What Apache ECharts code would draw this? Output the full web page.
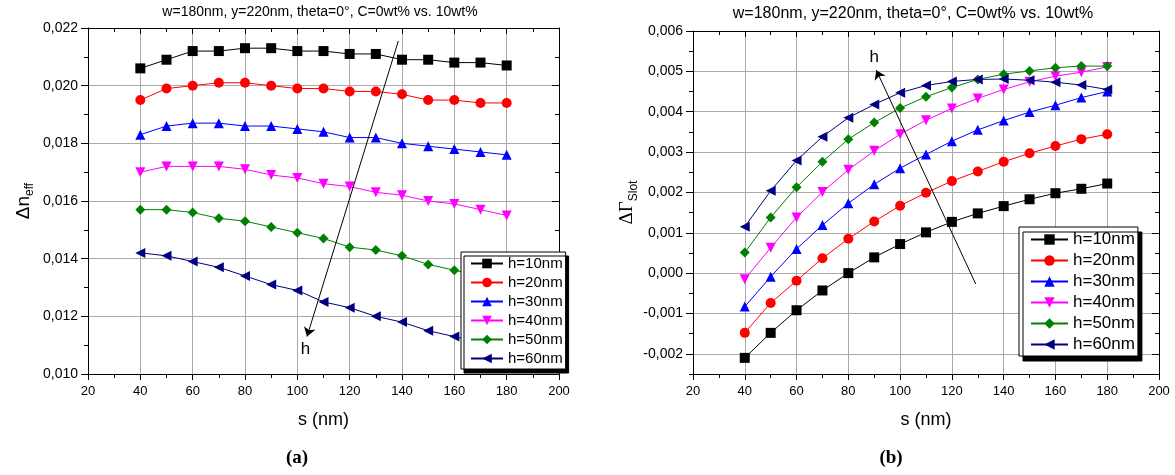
<!DOCTYPE html>
<html><head><meta charset="utf-8">
<script src="https://cdn.jsdelivr.net/npm/echarts@6/dist/echarts.min.js"></script>
<style>html,body{margin:0;padding:0;background:#fff}#c{width:1175px;height:475px}</style>
</head><body><div id="c"></div>
<script>
// ---------- DATA ----------
const sValues = [40, 50, 60, 70, 80, 90, 100, 110, 120, 130, 140, 150, 160, 170, 180];
const seriesNames = ['h=10nm', 'h=20nm', 'h=30nm', 'h=40nm', 'h=50nm', 'h=60nm'];

// (a) Δn_eff
const dnH10 = [0.0206, 0.0209, 0.0212, 0.0212, 0.0213, 0.0213, 0.0212, 0.0212, 0.0211, 0.0211, 0.0209, 0.0209, 0.0208, 0.0208, 0.0207];
const dnH20 = [0.0195, 0.0199, 0.0200, 0.0201, 0.0201, 0.0200, 0.0199, 0.0199, 0.0198, 0.0198, 0.0197, 0.0195, 0.0195, 0.0194, 0.0194];
const dnH30 = [0.0183, 0.0186, 0.0187, 0.0187, 0.0186, 0.0186, 0.0185, 0.0184, 0.0182, 0.0182, 0.0180, 0.0179, 0.0178, 0.0177, 0.0176];
const dnH40 = [0.0170, 0.0172, 0.0172, 0.0172, 0.0171, 0.0169, 0.0168, 0.0166, 0.0165, 0.0163, 0.0162, 0.0160, 0.0159, 0.0157, 0.0155];
const dnH50 = [0.0157, 0.0157, 0.0156, 0.0154, 0.0153, 0.0151, 0.0149, 0.0147, 0.0144, 0.0143, 0.0141, 0.0138, 0.0136, 0.0134, 0.0132];
const dnH60 = [0.0142, 0.0141, 0.0139, 0.0137, 0.0134, 0.0131, 0.0129, 0.0125, 0.0123, 0.0120, 0.0118, 0.0115, 0.0113, 0.0111, 0.0109];

// (b) ΔΓ_Slot
const gH10 = [-0.00210, -0.00148, -0.00092, -0.00043, 0.00000, 0.00039, 0.00072, 0.00101, 0.00127, 0.00148, 0.00166, 0.00183, 0.00198, 0.00209, 0.00222];
const gH20 = [-0.00148, -0.00074, -0.00019, 0.00037, 0.00085, 0.00128, 0.00167, 0.00199, 0.00228, 0.00252, 0.00276, 0.00297, 0.00315, 0.00332, 0.00344];
const gH30 = [-0.00083, -0.00009, 0.00060, 0.00119, 0.00173, 0.00220, 0.00260, 0.00294, 0.00327, 0.00355, 0.00378, 0.00399, 0.00416, 0.00435, 0.00450];
const gH40 = [-0.00015, 0.00063, 0.00138, 0.00201, 0.00256, 0.00303, 0.00344, 0.00379, 0.00408, 0.00433, 0.00455, 0.00474, 0.00488, 0.00498, 0.00511];
const gH50 = [0.00051, 0.00138, 0.00213, 0.00276, 0.00332, 0.00373, 0.00409, 0.00437, 0.00460, 0.00480, 0.00493, 0.00501, 0.00509, 0.00513, 0.00513];
const gH60 = [0.00115, 0.00204, 0.00279, 0.00338, 0.00385, 0.00418, 0.00447, 0.00465, 0.00475, 0.00480, 0.00481, 0.00478, 0.00473, 0.00466, 0.00455];

// axes / ticks
const xRange = [20, 200];
const dnRange = [0.010, 0.022];
const gammaRange = [-0.0025, 0.006];
const gammaTickValues = [-0.002, -0.001, 0.000, 0.001, 0.002, 0.003, 0.004, 0.005, 0.006];

// annotations (arrow start, arrow end) in data coordinates
const arrowA = [[138.6, 0.02155], [103.7, 0.01130]];
const arrowB = [[129.2, -0.00027], [90.8, 0.00503]];
const titleText = 'w=180nm, y=220nm, theta=0°, C=0wt% vs. 10wt%';
const xName = 's (nm)';
const captions = ['(a)', '(b)'];

// ---------- STYLE ----------
const FONT = 'Liberation Sans, Arial, sans-serif';
const colors = ['#000000', '#ff0000', '#0000ff', '#ff00ff', '#008000', '#000080'];
const symbols = [
  'rect', 'circle',
  'path://M5,0 L10,9 L0,9 Z',
  'path://M0,0 L10,0 L5,9 Z',
  'diamond',
  'path://M9,0 L9,10 L0,5 Z'
];
const dnSeries = [dnH10, dnH20, dnH30, dnH40, dnH50, dnH60];
const gSeries = [gH10, gH20, gH30, gH40, gH50, gH60];
const fmt = v => (Math.abs(v) < 1e-12 ? 0 : v).toFixed(3).replace('.', ',');

function xAx(grid, pos, labels) {
  return {
    type: 'value', gridIndex: grid, position: pos, min: xRange[0], max: xRange[1], interval: 20,
    axisLine: { show: true, onZero: false, lineStyle: { color: '#000', width: 1 } },
    axisTick: { show: true, inside: !labels, length: 6, lineStyle: { color: '#000' } },
    minorTick: { show: true, splitNumber: 2, length: 4, lineStyle: { color: '#000' } },
    axisLabel: { show: labels, color: '#000', fontSize: 13, fontFamily: FONT, margin: 11 },
    splitLine: { show: labels, lineStyle: { color: '#aaaaaa', width: 1 } },
    name: labels ? xName : '', nameLocation: 'middle', nameGap: 37,
    nameTextStyle: { fontSize: 18, fontFamily: FONT, color: '#000' }
  };
}

const option = {
  animation: false,
  backgroundColor: '#fff',
  grid: [
    { left: 88, top: 28, width: 471, height: 346, containLabel: false, outerBoundsMode: 'none' },
    { left: 693, top: 31, width: 466, height: 343, containLabel: false, outerBoundsMode: 'none' },
    { left: 693, top: 31, width: 466, height: 343, containLabel: false, outerBoundsMode: 'none' }
  ],
  xAxis: [
    xAx(0, 'bottom', true), xAx(0, 'top', false),
    xAx(1, 'bottom', true), xAx(1, 'top', false),
    { type: 'value', gridIndex: 2, min: xRange[0], max: xRange[1], show: false }
  ],
  yAxis: [
    { type: 'value', gridIndex: 0, position: 'left', min: dnRange[0], max: dnRange[1], interval: 0.002,
      axisLine: { show: true, onZero: false, lineStyle: { color: '#000' } },
      axisTick: { show: true, inside: false, length: 7, lineStyle: { color: '#000' } },
      minorTick: { show: true, splitNumber: 2, length: 4, lineStyle: { color: '#000' } },
      axisLabel: { color: '#000', fontSize: 14, fontFamily: FONT, margin: 10, formatter: fmt },
      splitLine: { show: true, lineStyle: { color: '#aaaaaa' } },
      name: '{d|Δn}{s|eff}', nameLocation: 'middle', nameGap: 52, nameRotate: 90,
      nameTextStyle: { color: '#000', rich: {
        d: { fontSize: 19, fontFamily: FONT, lineHeight: 24, color: '#000' },
        s: { fontSize: 12, fontFamily: FONT, lineHeight: 12, verticalAlign: 'bottom', color: '#000' } } }
    },
    { type: 'value', gridIndex: 0, position: 'right', min: dnRange[0], max: dnRange[1], interval: 0.002,
      axisLine: { show: true, onZero: false, lineStyle: { color: '#000' } },
      axisTick: { show: true, inside: true, length: 7, lineStyle: { color: '#000' } },
      minorTick: { show: true, splitNumber: 2, length: 4, lineStyle: { color: '#000' } },
      axisLabel: { show: false }, splitLine: { show: false }
    },
    { type: 'value', gridIndex: 1, position: 'left', min: gammaRange[0], max: gammaRange[1], interval: 0.0005,
      axisLine: { show: true, onZero: false, lineStyle: { color: '#000' } },
      axisTick: { show: true, inside: false, length: 7, customValues: gammaTickValues, lineStyle: { color: '#000' } },
      axisLabel: { color: '#000', fontSize: 14, fontFamily: FONT, margin: 10, customValues: gammaTickValues, formatter: fmt },
      splitLine: { show: true, lineStyle: { color: '#aaaaaa' } },
      name: '{d|ΔΓ}{s|Slot}', nameLocation: 'middle', nameGap: 52, nameRotate: 90,
      nameTextStyle: { color: '#000', rich: {
        d: { fontSize: 19, fontFamily: 'Liberation Serif, serif', lineHeight: 24, color: '#000' },
        s: { fontSize: 12, fontFamily: FONT, lineHeight: 12, verticalAlign: 'bottom', color: '#000' } } }
    },
    { type: 'value', gridIndex: 1, position: 'right', min: gammaRange[0], max: gammaRange[1], interval: 0.0005,
      axisLine: { show: true, onZero: false, lineStyle: { color: '#000' } },
      axisTick: { show: true, inside: true, length: 7, customValues: gammaTickValues, lineStyle: { color: '#000' } },
      axisLabel: { show: false }, splitLine: { show: false }
    },
    { type: 'value', gridIndex: 2, position: 'left', min: gammaRange[0], max: gammaRange[1], interval: 0.0005,
      axisLine: { show: false }, axisTick: { show: true, inside: false, length: 4, lineStyle: { color: '#000' } },
      axisLabel: { show: false }, splitLine: { show: false }
    },
    { type: 'value', gridIndex: 2, position: 'right', min: gammaRange[0], max: gammaRange[1], interval: 0.0005,
      axisLine: { show: false }, axisTick: { show: true, inside: true, length: 4, lineStyle: { color: '#000' } },
      axisLabel: { show: false }, splitLine: { show: false }
    }
  ],
  legend: [
    { data: seriesNames, left: 461, top: 252, orient: 'vertical', selectedMode: false,
      itemWidth: 32, itemHeight: 12, itemGap: 4, padding: [4, 3, 3, 9],
      backgroundColor: '#fff', borderColor: '#000', borderWidth: 1,
      shadowColor: '#000', shadowOffsetX: 3, shadowOffsetY: 4, shadowBlur: 0,
      textStyle: { fontSize: 15, lineHeight: 15, fontFamily: FONT, color: '#000' } },
    { data: seriesNames, left: 1019, top: 227, orient: 'vertical', selectedMode: false,
      itemWidth: 37, itemHeight: 13, itemGap: 4, padding: [4, 3, 3, 11],
      backgroundColor: '#fff', borderColor: '#000', borderWidth: 1,
      shadowColor: '#000', shadowOffsetX: 4, shadowOffsetY: 5, shadowBlur: 0,
      textStyle: { fontSize: 17, lineHeight: 17, fontFamily: FONT, color: '#000' } }
  ],
  graphic: [
    { type: 'text', x: 320, y: 12, style: { text: titleText, textAlign: 'center', textVerticalAlign: 'middle', fontSize: 14, fontFamily: FONT, fill: '#000' } },
    { type: 'text', x: 913, y: 14, style: { text: titleText, textAlign: 'center', textVerticalAlign: 'middle', fontSize: 16, fontFamily: FONT, fill: '#000' } },
    { type: 'text', x: 297, y: 458, style: { text: captions[0], textAlign: 'center', textVerticalAlign: 'middle', fontSize: 19, fontWeight: 'bold', fontFamily: 'Liberation Serif, serif', fill: '#000' } },
    { type: 'text', x: 891, y: 458, style: { text: captions[1], textAlign: 'center', textVerticalAlign: 'middle', fontSize: 19, fontWeight: 'bold', fontFamily: 'Liberation Serif, serif', fill: '#000' } }
  ],
  series: []
};

seriesNames.forEach((name, i) => {
  const base = {
    name, type: 'line', symbol: symbols[i], symbolSize: 10, showSymbol: true,
    lineStyle: { color: colors[i], width: 1 }, itemStyle: { color: colors[i] },
    emphasis: { disabled: true }, z: 3
  };
  option.series.push(Object.assign({}, base, { xAxisIndex: 0, yAxisIndex: 0,
    data: sValues.map((s, k) => [s, dnSeries[i][k]]) }));
  option.series.push(Object.assign({}, base, { xAxisIndex: 2, yAxisIndex: 2,
    data: sValues.map((s, k) => [s, gSeries[i][k]]) }));
});

const arrowSeries = (xi, yi, coords) => ({
  type: 'lines', coordinateSystem: 'cartesian2d', xAxisIndex: xi, yAxisIndex: yi, silent: true, z: 4,
  symbol: ['none', 'arrow'], symbolSize: 9,
  lineStyle: { color: '#000', width: 1, opacity: 1, curveness: 0 },
  label: { show: true, position: 'end', formatter: 'h', fontSize: 17, fontFamily: FONT, color: '#000', distance: 5 },
  data: [{ coords }]
});
option.series.push(arrowSeries(0, 0, arrowA));
option.series.push(arrowSeries(2, 2, arrowB));

const chart = echarts.init(document.getElementById('c'), null, { renderer: 'canvas' });
chart.setOption(option);
</script>
</body></html>
